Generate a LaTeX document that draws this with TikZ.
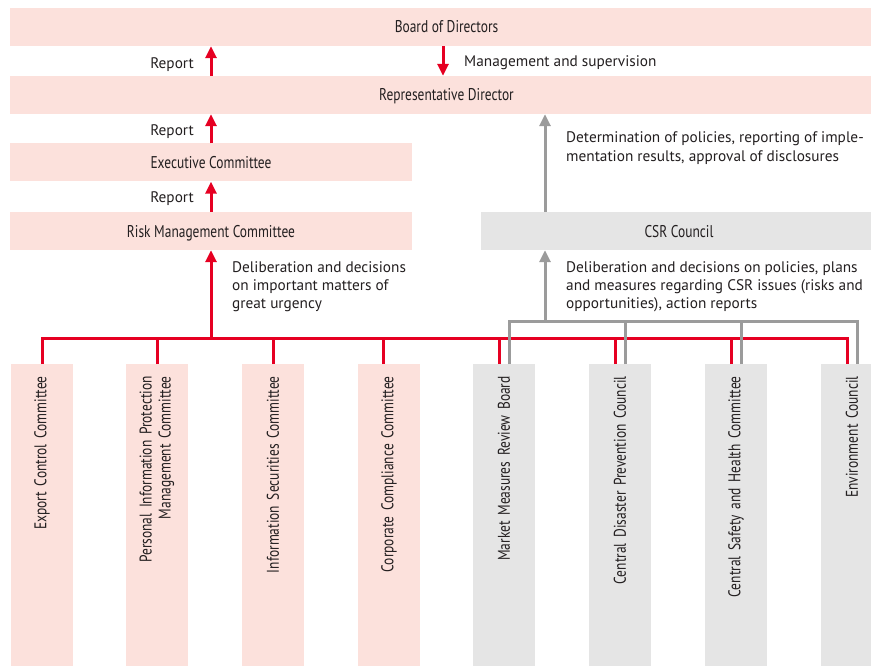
\documentclass[tikz,border=0pt]{standalone}
\usepackage{fontspec}
\setmainfont{PT Sans}
\newfontfamily\narrowfont{PT Sans}[FakeStretch=0.79]
\usetikzlibrary{arrows.meta,positioning}
\definecolor{rpink}{HTML}{FCE1DC}
\definecolor{rgrey}{HTML}{E5E5E5}
\definecolor{rred}{HTML}{E60022}
\definecolor{rline}{HTML}{9B9B9B}
\definecolor{rtext}{HTML}{231F20}
\tikzset{
  box/.style={inner sep=0pt, minimum height=38pt, text=rtext,
    text height=13pt, text depth=1pt,
    font=\narrowfont\fontsize{17}{18}\selectfont},
  pinkbox/.style={box, fill=rpink},
  greybox/.style={box, fill=rgrey},
  comm/.style={rotate=90, anchor=east, minimum width=302pt, minimum height=62pt,
    inner xsep=12pt, inner ysep=0pt, text width=278pt, align=right, text=rtext,
    font=\narrowfont\fontsize{17}{19}\selectfont},
  note/.style={inner sep=0pt, align=left, text=rtext,
    font=\fontsize{15.3}{18.2}\selectfont},
  redline/.style={draw=rred, line width=3pt},
  greyline/.style={draw=rline, line width=3pt},
  redarrow/.style={redline, -{Triangle[width=11pt,length=12pt]}},
  greyarrow/.style={greyline, -{Triangle[width=11pt,length=12pt]}},
}
\begin{document}
\begin{tikzpicture}[x=1pt,y=-1pt]
\useasboundingbox (0,0) rectangle (871,666);

\node[pinkbox, minimum width=873pt] (board) at (446.5,27) {Board of Directors};
\node[pinkbox, minimum width=873pt] (rep) at (446.5,95) {Representative Director};
\node[pinkbox, minimum width=402pt] (exec) at (211,162.5) {Executive Committee};
\node[pinkbox, minimum width=402pt] (risk) at (211,231) {Risk Management Committee};
\node[greybox, minimum width=396pt] (csr) at (679,231) {CSR Council};

\foreach \n/\x/\f/\txt in {
  1/42/rpink/{Export Control Committee},
  2/157/rpink/{Personal Information Protection\\Management Committee},
  3/273/rpink/{Information Securities Committee},
  4/389/rpink/{Corporate Compliance Committee},
  5/504/rgrey/{Market Measures Review Board},
  6/620/rgrey/{Central Disaster Prevention Council},
  7/736/rgrey/{Central Safety and Health Committee},
  8/852/rgrey/{Environment Council}}
  \node[comm, fill=\f] (c\n) at (\x,364) {\txt};

\coordinate (redhub) at (211,338);
\coordinate (greyhub) at (545,321);

\draw[redarrow] (rep.north -| exec.center) -- (board.south -| exec.center);
\draw[redarrow] ([xshift=-3.5pt]board.south) -- ([xshift=-3.5pt]rep.north);
\draw[redarrow] (exec.north) -- (rep.south -| exec.center);
\draw[redarrow] (risk.north) -- (exec.south);
\draw[greyarrow] (csr.north -| greyhub) -- (rep.south -| greyhub);
\draw[redarrow] (redhub) -- (risk.south);
\draw[greyarrow] (greyhub) -- (csr.south -| greyhub);

\draw[redline] (c1.east) |- (redhub) -| ([xshift=-5pt]c8.east);
\foreach \n/\s in {2/0,3/0,4/-6,5/-5,6/-5,7/-5}
  \draw[redline] ([xshift=\s pt]c\n.east) -- ([xshift=\s pt]c\n.east |- redhub);
\draw[greyline] ([xshift=5pt]c5.east) |- (greyhub) -| ([xshift=5pt]c8.east);
\foreach \n in {6,7}
  \draw[greyline] ([xshift=5pt]c\n.east) -- ([xshift=5pt]c\n.east |- greyhub);

\node[note, anchor=east] (report1) at (194,65) {Report};
\node[note, anchor=east] (report2) at (194,132) {Report};
\node[note, anchor=east] (report3) at (194,199) {Report};
\node[note, anchor=west] (manage) at (464,63) {Management and supervision};
\node[note, anchor=north west, font=\fontsize{15.3}{19}\selectfont] (policy) at (566,131)
  {Determination of policies, reporting of imple-\\mentation results, approval of disclosures};
\node[note, anchor=north west] (urgent) at (232,261)
  {Deliberation and decisions\\on important matters of\\great urgency};
\node[note, anchor=north west] (csrtask) at (566,261)
  {Deliberation and decisions on policies, plans\\and measures regarding CSR issues (risks and\\opportunities), action reports};
\end{tikzpicture}
\end{document}
